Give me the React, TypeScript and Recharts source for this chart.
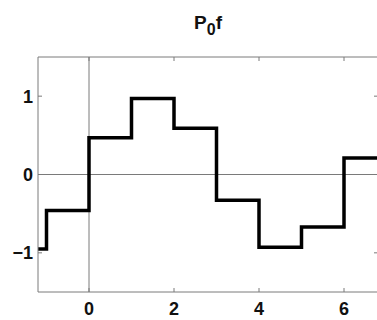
import React from "react";
import { LineChart, Line, XAxis, YAxis, ReferenceLine } from "recharts";

const stepX = [-1.2, -1, 0, 1, 2, 3, 4, 5, 6, 6.8];
const stepY = [-0.95, -0.46, 0.47, 0.97, 0.59, -0.33, -0.93, -0.67, 0.21, 0.21];
const xTicks = [0, 2, 4, 6];
const yTicks = [-1, 0, 1];
const xDomain: [number, number] = [-1.2, 6.8];
const yDomain: [number, number] = [-1.5, 1.5];

const data = stepX.map((x, i) => ({ x, y: stepY[i] }));

const fmt = (v: number) => (v < 0 ? "\u2212" + Math.abs(v) : String(v));

const FONT = "'Liberation Sans', Arial, Helvetica, sans-serif";
const tickStyle = { fontSize: 18, fontWeight: 700, fill: "#111", fontFamily: FONT };
const gray = "#7a7a7a";
const EmptyTick = () => <g />;

export default function App() {
  return (
    <div style={{ position: "absolute", left: 0, top: 0, width: 377, height: 320, overflow: "hidden", background: "#fff" }}>
      <div
        style={{
          position: "absolute",
          left: 38,
          width: 340,
          top: 14,
          textAlign: "center",
          fontFamily: FONT,
          fontWeight: 700,
          fontSize: 19,
          lineHeight: "18px",
          color: "#111",
        }}
      >
        P<span style={{ fontSize: 16, position: "relative", top: 6 }}>0</span>f
      </div>
      <LineChart width={380} height={320} data={data} margin={{ top: 52, right: 0, bottom: 0, left: 0 }}>
        <XAxis
          xAxisId="b"
          dataKey="x"
          type="number"
          domain={xDomain}
          ticks={xTicks}
          allowDataOverflow
          height={28}
          tickSize={-4}
          tickMargin={14}
          tick={tickStyle}
          tickFormatter={fmt}
          stroke={gray}
          axisLine={{ stroke: gray }}
          tickLine={{ stroke: gray }}
        />
        <XAxis
          xAxisId="t"
          orientation="top"
          dataKey="x"
          type="number"
          domain={xDomain}
          ticks={xTicks}
          allowDataOverflow
          height={5}
          tickSize={-4}
          tick={EmptyTick}
          stroke={gray}
          axisLine={{ stroke: gray }}
          tickLine={{ stroke: gray }}
        />
        <YAxis
          yAxisId="l"
          type="number"
          domain={yDomain}
          ticks={yTicks}
          allowDataOverflow
          width={38}
          tickSize={-4}
          tickMargin={9}
          tick={tickStyle}
          tickFormatter={fmt}
          axisLine={{ stroke: gray }}
          tickLine={{ stroke: gray }}
        />
        <YAxis
          yAxisId="r"
          orientation="right"
          type="number"
          domain={yDomain}
          ticks={yTicks}
          allowDataOverflow
          width={2}
          tickSize={-4}
          tick={EmptyTick}
          stroke={gray}
          axisLine={{ stroke: gray }}
          tickLine={{ stroke: gray }}
        />
        <ReferenceLine xAxisId="b" yAxisId="l" x={0} stroke={gray} strokeWidth={1} />
        <ReferenceLine xAxisId="b" yAxisId="l" y={0} stroke={gray} strokeWidth={1} />
        <Line
          xAxisId="b"
          yAxisId="l"
          type="stepAfter"
          dataKey="y"
          stroke="#000"
          strokeWidth={3.5}
          dot={false}
          isAnimationActive={false}
        />
      </LineChart>
    </div>
  );
}
